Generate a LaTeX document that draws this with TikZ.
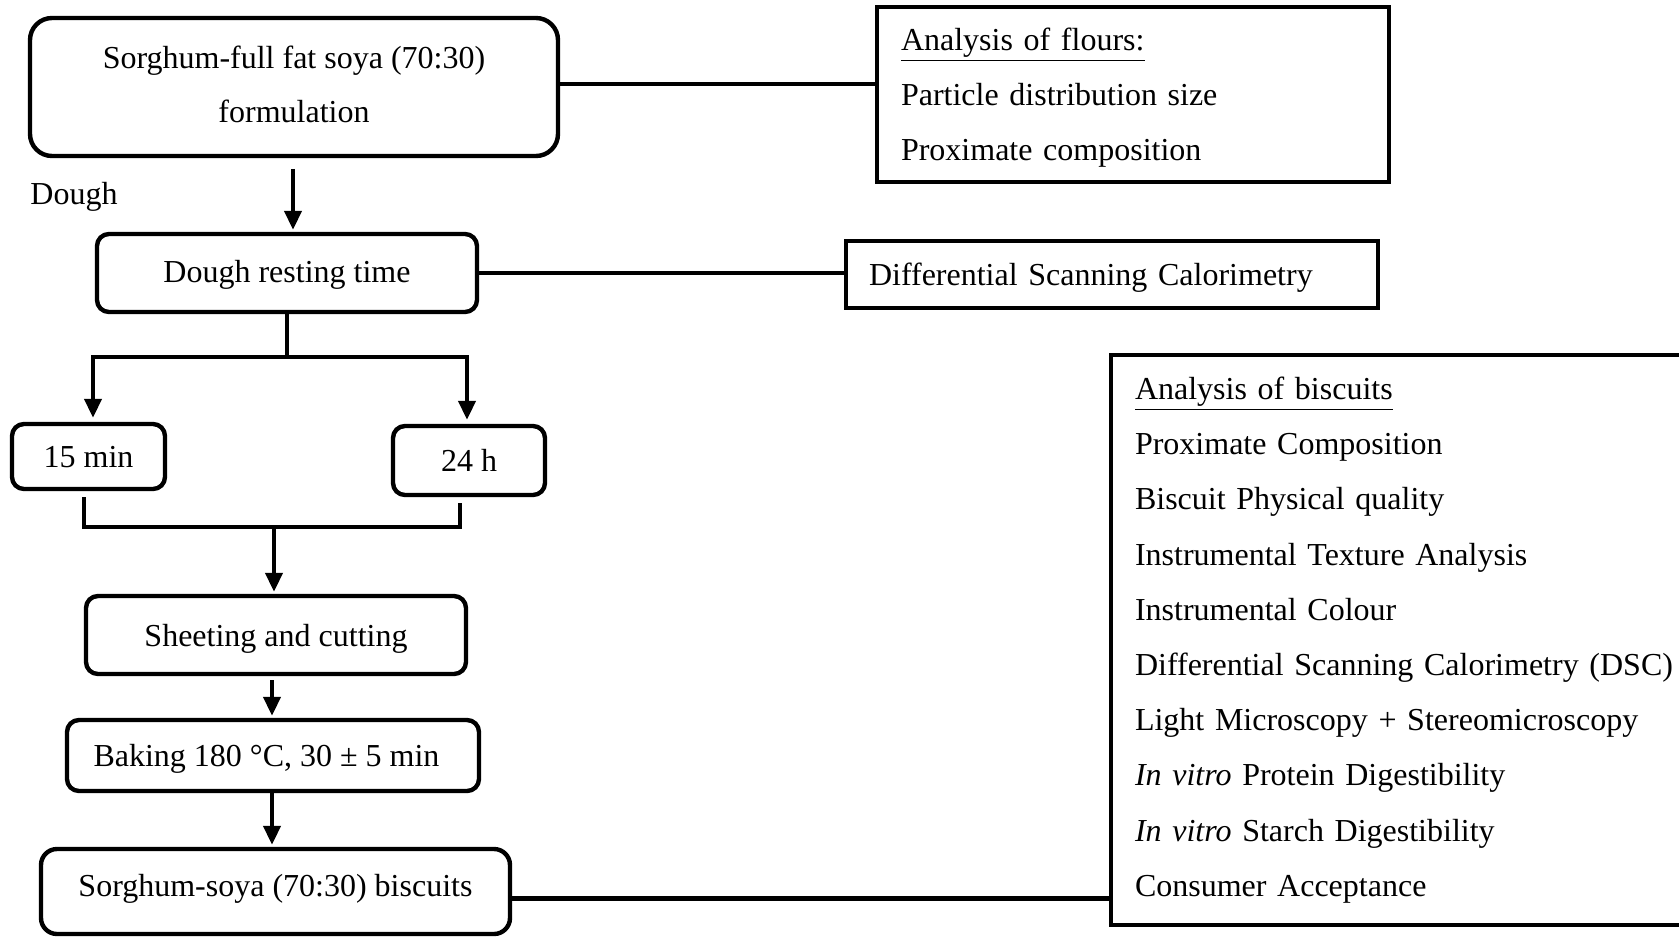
\documentclass[tikz,border=0pt]{standalone}
\usepackage{fontspec}
\setmainfont{Liberation Serif}
\usetikzlibrary{arrows.meta}
\begin{document}
\begin{tikzpicture}[x=0.5pt,y=-0.5pt,
  font=\fontsize{16pt}{27.5pt}\selectfont,
  rbox/.style={draw, line width=2.2pt, rounded corners=6pt, align=center, inner sep=0pt, text depth=0pt},
  sbox/.style={draw, line width=2.2pt, align=left, inner xsep=12pt, inner ysep=0pt},
  conn/.style={line width=2.1pt},
  arr/.style={conn, -{Triangle[width=8.5pt,length=9.5pt]}},
]
\useasboundingbox (0,0) rectangle (1679,936);
\clip (0,0) rectangle (1679,936);

% process boxes
\node[rbox, rounded corners=11pt, minimum width=264pt, minimum height=69pt, text depth=3pt, font=\fontsize{16pt}{27pt}\selectfont] (top) at (294,87) {Sorghum-full fat soya (70:30)\\formulation};
\node[rbox, minimum width=190pt, minimum height=39pt, text depth=1.5pt] (rest) at (287,273) {Dough resting time};
\node[rbox, minimum width=76.5pt, minimum height=32.5pt] (m15) at (88.5,456.5) {15 min};
\node[rbox, minimum width=76pt, minimum height=34.5pt] (h24) at (469,460.5) {24 h};
\node[rbox, minimum width=190pt, minimum height=39pt] (sheet) at (276,635) {Sheeting and cutting};
\node[rbox, minimum width=206pt, minimum height=35.5pt] (bake) at (273,755.5) {Baking 180 °C, 30 ± 5 min\hspace*{6.5pt}};
\node[rbox, rounded corners=8pt, minimum width=234.5pt, minimum height=42.5pt, text depth=6pt] (bisc) at (275.5,891.5) {Sorghum-soya (70:30) biscuits};

\node[anchor=west, inner sep=0pt] (dough) at (30,197) {Dough};

% analysis boxes
\node[sbox, text width=232pt, minimum height=87.5pt, text depth=55.3pt] (flours) at (1133,94.5)
  {\underline{Analysis of flours:}\\Particle distribution size\\Proximate composition};
\node[sbox, inner xsep=11.5pt, text width=243pt, minimum height=33.5pt, text depth=0pt] (dsc) at (1112,274.5)
  {Differential Scanning Calorimetry};
\node[sbox, text width=280.5pt, minimum height=285pt, font=\fontsize{16pt}{27.6pt}\selectfont] (anal) at (1415.5,640)
  {\underline{Analysis of biscuits}\\
   Proximate Composition\\
   Biscuit Physical quality\\
   Instrumental Texture Analysis\\
   Instrumental Colour\\
   Differential Scanning Calorimetry (DSC)\\
   Light Microscopy + Stereomicroscopy\\
   \textit{In vitro} Protein Digestibility\\
   \textit{In vitro} Starch Digestibility\\
   Consumer Acceptance};

% horizontal links to analyses
\draw[conn] ([yshift=1.5pt]top.east) -- ([yshift=1.5pt]top.east -| flours.west);
\draw[conn] (rest.east) -- (rest.east -| dsc.west);
\draw[conn] ([yshift=-3.5pt]bisc.east) -- ([yshift=-3.5pt]bisc.east -| anal.west);

% top -> resting
\coordinate (a1) at (293,169);
\draw[arr] (a1) -- ([yshift=1pt]a1 |- rest.north);

% split
\coordinate (sM) at (287,357);
\coordinate (sL) at (93,357);
\coordinate (sR) at (467,357);
\draw[conn] (rest.south) -- (sM);
\draw[conn, line cap=rect] (sL) -- (sR);
\draw[arr] (sL) -- ([yshift=2pt]sL |- m15.north);
\draw[arr] (sR) -- ([yshift=2pt]sR |- h24.north);

% join
\coordinate (jL1) at (84,497);
\coordinate (jL2) at (84,527);
\coordinate (jR2) at (460,527);
\coordinate (jR1) at (460,503);
\coordinate (jM) at (274,527);
\draw[conn] (jL1) -- (jL2) -- (jR2) -- (jR1);
\draw[arr] (jM) -- ([yshift=1pt]jM |- sheet.north);

% sheeting -> baking -> biscuits
\coordinate (b1) at (272,680);
\draw[arr] (b1) -- ([yshift=1pt]b1 |- bake.north);
\coordinate (b2) at (272,791);
\draw[arr] (b2) -- ([yshift=1pt]b2 |- bisc.north);
\end{tikzpicture}
\end{document}
